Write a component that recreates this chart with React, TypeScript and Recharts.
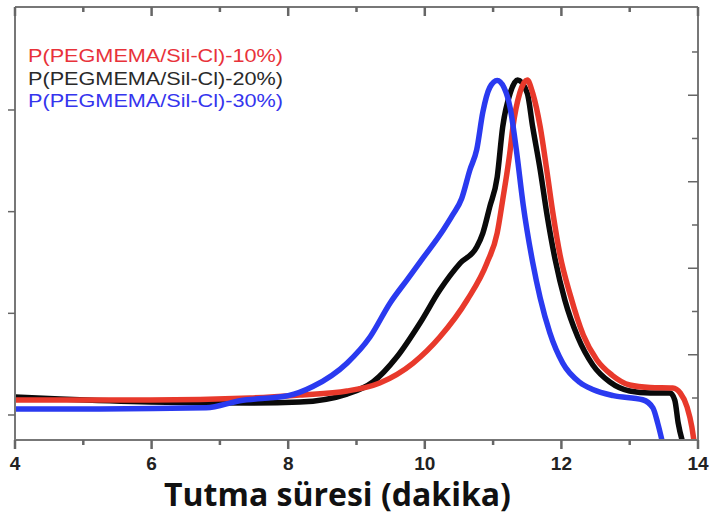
import React from 'react';
import { LineChart, Line, XAxis, YAxis } from 'recharts';

// Retention time (min) and detector signal (arb. units) for each sample
const redTime = [4.0, 5.98, 7.44, 8.17, 8.86, 9.34, 9.83, 10.22, 10.62, 10.91, 11.06, 11.14, 11.25, 11.29, 11.39, 11.5, 11.58, 11.69, 11.79, 11.88, 11.98, 12.13, 12.32, 12.52, 12.74, 13.0, 13.3, 13.63, 13.74, 13.84, 13.91, 13.95];
const redSignal = [0.147, 0.147, 0.167, 0.197, 0.236, 0.315, 0.511, 0.767, 1.131, 1.495, 1.79, 2.114, 2.606, 2.832, 3.166, 3.294, 3.166, 2.832, 2.389, 1.967, 1.573, 1.18, 0.787, 0.541, 0.393, 0.295, 0.27, 0.265, 0.216, 0.079, -0.118, -0.3];

const blackTime = [4.0, 4.66, 5.98, 7.44, 8.17, 8.86, 9.24, 9.59, 9.93, 10.22, 10.52, 10.76, 10.85, 10.95, 11.06, 11.14, 11.25, 11.36, 11.5, 11.58, 11.69, 11.79, 11.91, 12.05, 12.24, 12.46, 12.71, 13.0, 13.3, 13.59, 13.66, 13.71, 13.79];
const blackSignal = [0.177, 0.157, 0.128, 0.118, 0.128, 0.206, 0.324, 0.57, 0.905, 1.229, 1.495, 1.652, 1.79, 2.045, 2.34, 2.832, 3.166, 3.294, 3.166, 2.832, 2.409, 1.967, 1.524, 1.131, 0.767, 0.492, 0.324, 0.236, 0.216, 0.216, 0.147, -0.079, -0.3];

const blueTime = [4.0, 5.24, 6.8, 7.29, 8.0, 8.36, 8.86, 9.2, 9.49, 9.74, 9.98, 10.27, 10.41, 10.54, 10.66, 10.76, 10.85, 10.95, 11.06, 11.16, 11.25, 11.34, 11.44, 11.58, 11.69, 11.83, 12.02, 12.27, 12.46, 12.76, 13.19, 13.34, 13.41, 13.49];
const blueSignal = [0.06, 0.06, 0.07, 0.14, 0.19, 0.28, 0.51, 0.77, 1.1, 1.33, 1.55, 1.82, 1.97, 2.13, 2.41, 2.61, 2.98, 3.22, 3.29, 3.22, 3.02, 2.61, 2.07, 1.5, 1.15, 0.81, 0.51, 0.32, 0.25, 0.19, 0.15, 0.07, -0.08, -0.3];

const xTicks = [4, 5, 6, 7, 8, 9, 10, 11, 12, 13, 14];
const leftTicks = [0, 1, 2, 3];
const rightTicks = [0, 1, 2, 3, 4, 5, 6, 7, 8];

const seriesNames = [
  'P(PEGMEMA/Sil-Cl)-10%)',
  'P(PEGMEMA/Sil-Cl)-20%)',
  'P(PEGMEMA/Sil-Cl)-30%)',
];
const xTitle = 'Tutma süresi (dakika)';

const toRows = (t: number[], s: number[]) => t.map((x, i) => ({ t: x, v: s[i] }));
const redData = toRows(redTime, redSignal);
const blackData = toRows(blackTime, blackSignal);
const blueData = toRows(blueTime, blueSignal);

const AXIS = '#777';
const TICK = '#666';

const BottomTick = (props: any) => {
  const { x, y, payload } = props;
  const major = payload.value % 2 === 0;
  return (
    <g>
      <line x1={x} x2={x} y1={y} y2={y + (major ? 9 : 5)} stroke={TICK} strokeWidth={2.5} />
      {major && (
        <text x={x} y={y + 30} textAnchor="middle" fontFamily="Liberation Sans, Arial, sans-serif" fontWeight="bold" fontSize={19} fill="#222">
          {payload.value}
        </text>
      )}
    </g>
  );
};

const TopTick = (props: any) => {
  const { x, y, payload } = props;
  const major = payload.value % 2 === 0;
  return <line x1={x} x2={x} y1={y} y2={y + (major ? 9 : 5)} stroke={TICK} strokeWidth={2.5} />;
};

const LeftTick = (props: any) => {
  const { x, y } = props;
  return <line x1={x - 7} x2={x} y1={y} y2={y} stroke={TICK} strokeWidth={1.5} />;
};

const RightTick = (props: any) => {
  const { x, y, payload } = props;
  const long = payload.value % 2 === 1;
  return <line x1={x - (long ? 10 : 6)} x2={x} y1={y} y2={y} stroke={TICK} strokeWidth={1.5} />;
};

const TitleLabel = (props: any) => {
  const vb = props.viewBox || { x: 15, y: 440, width: 683 };
  return (
    <text x={vb.x + vb.width / 2 - 19} y={506} textAnchor="middle" fontFamily="Open Sans, Noto Sans, sans-serif" fontWeight="bold" fontSize={32} fill="#111">
      {xTitle}
    </text>
  );
};

const legendColors = ['#E8323A', '#2a2a2a', '#3535EE'];
const legendY = [62, 85, 107];

export default function App() {
  return (
    <div style={{ position: 'absolute', left: 0, top: 0, width: 710, height: 519, background: '#fff' }}>
      <LineChart width={710} height={519} margin={{ top: 0, right: 0, bottom: 0, left: 0 }}>
        <XAxis
          xAxisId="main"
          dataKey="t"
          type="number"
          domain={[4, 14]}
          ticks={xTicks}
          allowDataOverflow
          height={79}
          tickSize={0}
          tickMargin={0}
          tickLine={false}
          tick={<BottomTick />}
          axisLine={{ stroke: AXIS, strokeWidth: 2 }}
          interval={0}
          label={<TitleLabel />}
        />
        <XAxis
          xAxisId="top"
          orientation="top"
          dataKey="t"
          type="number"
          domain={[4, 14]}
          ticks={xTicks}
          allowDataOverflow
          height={7}
          tickSize={0}
          tickMargin={0}
          tickLine={false}
          tick={<TopTick />}
          axisLine={{ stroke: AXIS, strokeWidth: 2 }}
          interval={0}
        />
        <YAxis
          yAxisId="left"
          type="number"
          domain={[-0.246, 4.013]}
          ticks={leftTicks}
          allowDataOverflow
          width={15}
          tickSize={0}
          tickMargin={0}
          tickLine={false}
          tick={<LeftTick />}
          axisLine={{ stroke: AXIS, strokeWidth: 2 }}
          interval={0}
        />
        <YAxis
          yAxisId="right"
          orientation="right"
          type="number"
          domain={[-0.971, 9.04]}
          ticks={rightTicks}
          allowDataOverflow
          width={12}
          tickSize={0}
          tickMargin={0}
          tickLine={false}
          tick={<RightTick />}
          axisLine={{ stroke: AXIS, strokeWidth: 2 }}
          interval={0}
        />
        <Line xAxisId="main" yAxisId="left" data={blackData} dataKey="v" type="monotone" stroke="#0a0a0a" strokeWidth={5.5} dot={false} isAnimationActive={false} />
        <Line xAxisId="main" yAxisId="left" data={redData} dataKey="v" type="monotone" stroke="#E8392B" strokeWidth={5.5} dot={false} isAnimationActive={false} />
        <Line xAxisId="main" yAxisId="left" data={blueData} dataKey="v" type="monotone" stroke="#2A3AF0" strokeWidth={5.5} dot={false} isAnimationActive={false} />
      </LineChart>
      <svg width={300} height={120} style={{ position: 'absolute', left: 0, top: 0, pointerEvents: 'none' }}>
        {seriesNames.map((n, i) => (
          <text key={n} x={28} y={legendY[i]} fontFamily="Liberation Sans, Arial, sans-serif" fontSize={18} fill={legendColors[i]} textLength={255} lengthAdjust="spacingAndGlyphs">
            {n}
          </text>
        ))}
      </svg>
    </div>
  );
}
